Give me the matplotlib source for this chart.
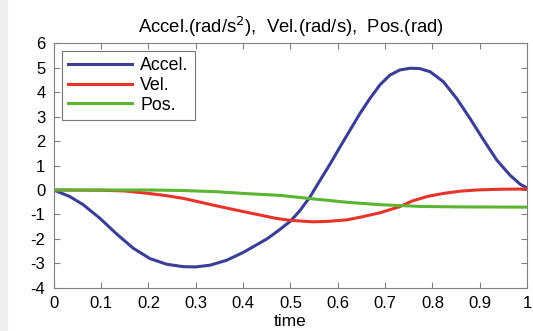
import matplotlib
matplotlib.use('Agg')
import matplotlib.pyplot as plt
from matplotlib.patches import Rectangle

plt.rcParams['font.family'] = ['Liberation Sans', 'DejaVu Sans']
plt.rcParams['axes.unicode_minus'] = False

# values
t_accel = [0.0, 0.034, 0.062, 0.097, 0.133, 0.168, 0.203, 0.238, 0.273, 0.30,
           0.33, 0.365, 0.40, 0.45, 0.475, 0.50, 0.52, 0.541, 0.562, 0.584,
           0.605, 0.626, 0.647, 0.668, 0.689, 0.71, 0.731, 0.753, 0.772, 0.795,
           0.823, 0.851, 0.879, 0.908, 0.936, 0.964, 0.985, 1.0]
accel = [0.0, -0.27, -0.6, -1.15, -1.8, -2.38, -2.8, -3.03, -3.13, -3.14,
         -3.07, -2.87, -2.55, -2.0, -1.65, -1.27, -0.84, -0.29, 0.38, 1.07,
         1.77, 2.45, 3.13, 3.74, 4.29, 4.69, 4.9, 4.97, 4.96, 4.83,
         4.42, 3.74, 2.93, 2.04, 1.22, 0.6, 0.24, 0.08]

t_vel = [0.0, 0.1, 0.15, 0.2, 0.237, 0.273, 0.31, 0.344, 0.40, 0.47, 0.50,
         0.548, 0.58, 0.619, 0.65, 0.689, 0.731, 0.757, 0.79, 0.823, 0.858,
         0.893, 0.94, 1.0]
vel = [0.0, -0.01, -0.04, -0.14, -0.23, -0.34, -0.5, -0.65, -0.88, -1.16, -1.24,
       -1.3, -1.28, -1.22, -1.1, -0.93, -0.68, -0.45, -0.26, -0.14, -0.05,
       0.0, 0.03, 0.04]

t_pos = [0.0, 0.2, 0.27, 0.344, 0.40, 0.478, 0.541, 0.619, 0.689, 0.774, 0.85, 1.0]
pos = [0.0, 0.0, -0.02, -0.07, -0.14, -0.22, -0.35, -0.5, -0.6, -0.67, -0.69, -0.7]

xticks = [0, 0.1, 0.2, 0.3, 0.4, 0.5, 0.6, 0.7, 0.8, 0.9, 1]
xticklabels = ['0', '0.1', '0.2', '0.3', '0.4', '0.5', '0.6', '0.7', '0.8', '0.9', '1']
yticks = [-4, -3, -2, -1, 0, 1, 2, 3, 4, 5, 6]

fig = plt.figure(figsize=(5.33, 3.31), dpi=100)
fig.patches.append(Rectangle((0, 0), 7 / 533, 1, transform=fig.transFigure,
                             color='#efefef', zorder=0))
ax = fig.add_axes([0.101, 0.130, 0.888, 0.740])

ax.plot(t_accel, accel, color='#3b3d96', linewidth=2.2, label='Accel.')
ax.plot(t_vel, vel, color='#e8332a', linewidth=2.2, label='Vel.')
ax.plot(t_pos, pos, color='#5bb432', linewidth=2.2, label='Pos.')

ax.set_xlim(0, 1)
ax.set_ylim(-4, 6)
ax.set_xticks(xticks)
ax.set_xticklabels(xticklabels)
ax.set_yticks(yticks)
ax.tick_params(direction='in', length=4, top=True, right=True,
               labelsize=12, color='#808080', pad=6)
for s in ax.spines.values():
    s.set_color('#808080')
    s.set_linewidth(0.8)

ax.set_title(r'Accel.(rad/s$^2$),  Vel.(rad/s),  Pos.(rad)', fontsize=13.3, pad=7)
ax.set_xlabel('time', fontsize=12.5, labelpad=2)

leg = ax.legend(loc='upper left', fontsize=12.8, handlelength=3.6, handletextpad=0.45,
                borderpad=0.35, labelspacing=0.15, borderaxespad=0, fancybox=False,
                edgecolor='#555555', bbox_to_anchor=(0.017, 0.967))
leg.get_frame().set_linewidth(0.8)

fig.savefig('out.png', dpi=100)
